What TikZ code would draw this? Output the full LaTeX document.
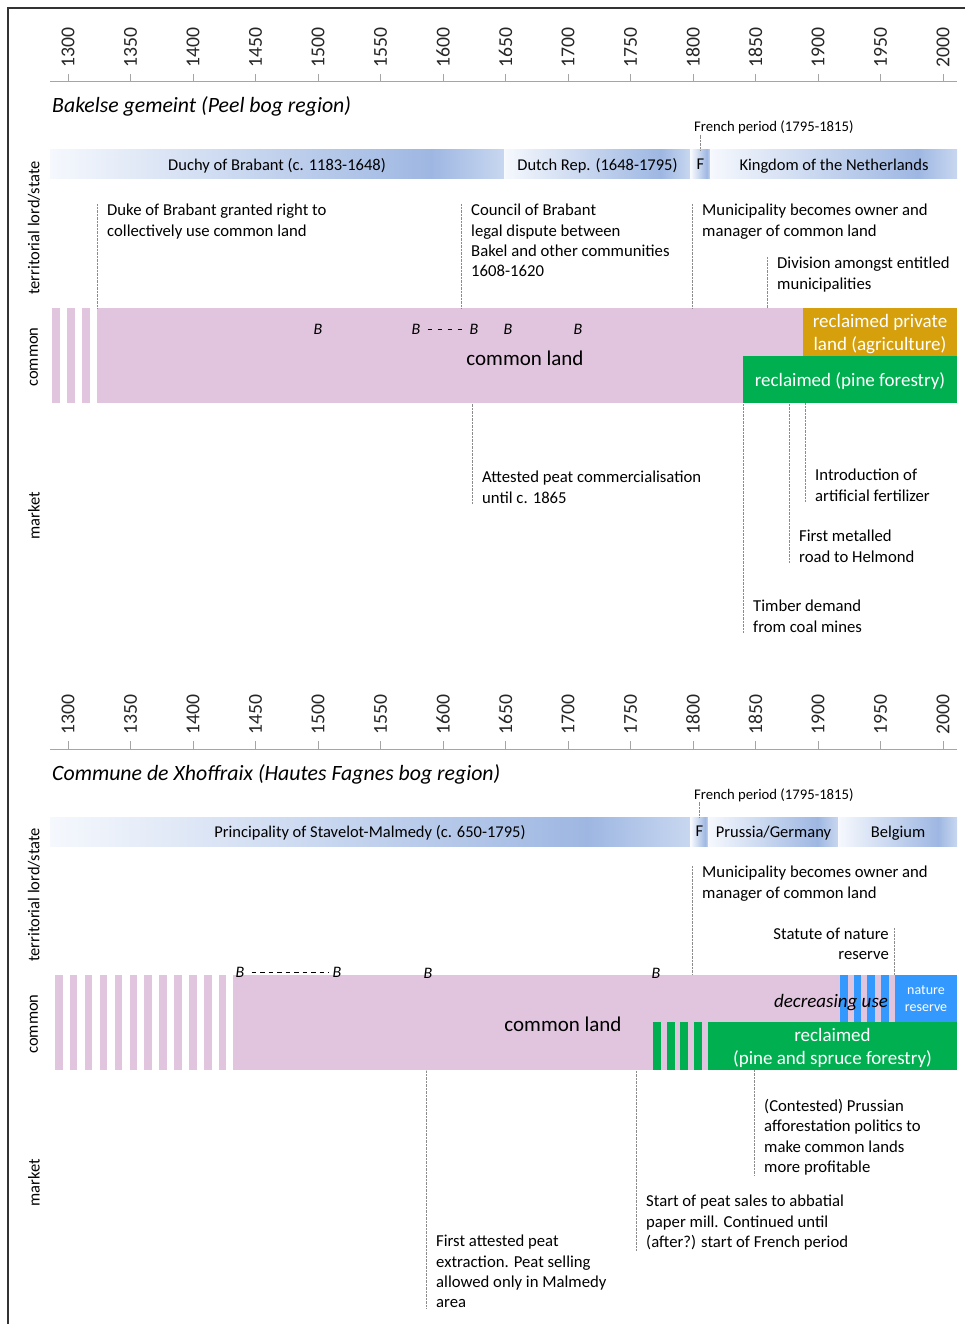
\documentclass[tikz,border=0pt]{standalone}
\usepackage{fontspec}
\setmainfont{Carlito}
\usepackage{tikz}
\usetikzlibrary{arrows}

\definecolor{commonpink}{RGB}{225,196,222}
\definecolor{agriorange}{RGB}{214,160,12}
\definecolor{forestgreen}{RGB}{0,176,80}
\definecolor{reserveblue}{RGB}{51,153,255}
\definecolor{barlight}{RGB}{245,248,253}
\definecolor{bardark}{RGB}{158,183,226}
\definecolor{barmid}{RGB}{200,215,240}
\definecolor{axisgray}{RGB}{165,165,165}
\pgfdeclarehorizontalshading{barshade}{100bp}{color(0bp)=(barlight); color(25bp)=(barlight); color(67bp)=(bardark); color(75bp)=(barmid); color(100bp)=(barmid)}

\begin{document}
\begin{tikzpicture}
  [x=1pt, y=-1pt,
    bar/.style={rectangle, shade, shading=barshade, minimum height=29, inner sep=0, outer sep=0, anchor=north west, text depth=0pt, font=\fontsize{16.5}{20}\selectfont},
    band/.style={rectangle, fill=commonpink, inner sep=0, outer sep=0, anchor=north west},
    fillbox/.style={rectangle, inner sep=0, outer sep=0, anchor=north west, text=white, align=center, text depth=0pt, font=\fontsize{19}{23}\selectfont},
    note/.style={align=left, inner xsep=10, inner ysep=0, anchor=north west, font=\fontsize{16.7}{20.3}\selectfont},
    side/.style={rotate=90, font=\fontsize{16.5}{20}\selectfont},
    year/.style={rotate=90, anchor=west, inner sep=0, text=black!85, font=\fontsize{19.7}{22}\selectfont},
    title/.style={anchor=base west, inner sep=0, font=\fontsize{21.8}{24}\selectfont\itshape},
    bee/.style={inner sep=2, font=\fontsize{16}{18}\selectfont\itshape},
    leader/.style={draw=black!45, densely dotted},
    axis/.style={draw=axisgray, line width=1}
  ]
  \useasboundingbox (0,0) rectangle (965,1324);
  \draw[black!80, line width=1.3] (8,1324) -- (8,8) -- (965,8);

  % time axes
  \foreach \o in {0,667} {
    \draw[axis] (50,82+\o) -- (957,82+\o);
    \foreach \y in {1300,1350,...,2000} {
      \draw[axis] (68+1.25*\y-1625,74+\o) -- (68+1.25*\y-1625,82+\o);
      \node[year] at (68+1.25*\y-1625,68+\o) {\y};
    }
    \node[side] at (34,228+\o) {territorial lord/state};
    \node[side] at (34,357+\o) {common};
    \node[side] at (34,516+\o) {market};
  }

  % Bakel
  \node[title] (t1) at (52,113) {Bakelse gemeint (Peel bog region)};
  \node[anchor=base west, inner sep=0, font=\fontsize{14.7}{17}\selectfont] (fr1) at (694,132) {French period (1795-1815)};

  \path (50,150) node[bar, minimum width=454] (duchy) {Duchy of Brabant (c. 1183-1648)}
     ++(455,0) node[bar, minimum width=185] (dutch) {Dutch Rep. (1648-1795)}
     ++(186,0) node[bar, minimum width=19] (fbar1) {F}
     ++( 20,0) node[bar, minimum width=246] (kingdom) {Kingdom of the Netherlands};
  \draw[leader] (fbar1.north) -- (fbar1.north |- fr1.south);

  \foreach \s in {0,1,2} {
    \fill[commonpink] (52+15*\s,308) rectangle ++(8,95);
  }
  \node[band, minimum width=860, minimum height=95] (band1) at (97,308) {};
  \node[fillbox, fill=agriorange, minimum width=154, minimum height=48] (agri) at (803,308) {reclaimed private\\land (agriculture)};
  \node[fillbox, fill=forestgreen, minimum width=214, minimum height=47] (pine) at (743,356) {reclaimed (pine forestry)};
  \node[font=\fontsize{21}{24}\selectfont] (cl1) at (525,358) {common land};

  \node[bee] (b11) at (318,329) {B};
  \node[bee] (b12) at (416,329) {B};
  \node[bee] (b13) at (474,329) {B};
  \node[bee] (b14) at (508,329) {B};
  \node[bee] (b15) at (578,329) {B};
  \draw[dash pattern=on 4pt off 6pt, shorten <=5pt, shorten >=4pt] (b12.east) -- (b13.west);

  \node[note] (duke) at (97,204) {Duke of Brabant granted right to\\collectively use common land};
  \node[note] (council) at (461,204) {Council of Brabant\\legal dispute between\\Bakel and other communities\\1608-1620};
  \node[note] (muni1) at (692,204) {Municipality becomes owner and\\manager of common land};
  \node[note] (division) at (767,257) {Division amongst entitled\\municipalities};
  \foreach \n in {duke, council, muni1, division} {
    \draw[leader] (\n.north west) -- (\n.north west |- band1.north);
  }

  \node[note] (attest) at (472,471) {Attested peat commercialisation\\until c. 1865};
  \node[note] (fertilizer) at (805,469) {Introduction of\\artificial fertilizer};
  \node[note] (road) at (789,530) {First metalled\\road to Helmond};
  \node[note] (timber) at (743,600) {Timber demand\\from coal mines};
  \foreach \n in {attest, fertilizer, road, timber} {
    \draw[leader] (\n.south west) -- (\n.south west |- band1.south);
  }

  % Xhoffraix
  \node[title] (t2) at (52,780) {Commune de Xhoffraix (Hautes Fagnes bog region)};
  \node[anchor=base west, inner sep=0, font=\fontsize{14.7}{17}\selectfont] (fr2) at (694,799) {French period (1795-1815)};

  \path (50,817) node[bar, minimum width=640] (stavelot) {Principality of Stavelot-Malmedy (c. 650-1795)}
     ++(641,0) node[bar, minimum width=17] (fbar2) {F}
     ++( 18,0) node[bar, minimum width=129] (prussia) {Prussia/Germany}
     ++(130,0) node[bar, minimum width=118] (belgium) {Belgium};
  \draw[leader] (fbar2.north) -- (fbar2.north |- fr2.south);

  \foreach \s in {0,...,11} {
    \fill[commonpink] (55+14.9*\s,975) rectangle ++(7.5,95);
  }
  \node[band, minimum width=724, minimum height=95] (band2) at (233,975) {};
  \foreach \s in {0,...,3} {
    \fill[forestgreen] (653+13.7*\s,1022) rectangle ++(8,48);
    \fill[reserveblue] (840+13.7*\s,975) rectangle ++(7.5,47);
  }
  \node[fillbox, fill=forestgreen, minimum width=249, minimum height=48] (spruce) at (708,1022) {reclaimed\\(pine and spruce forestry)};
  \node[fillbox, fill=reserveblue, minimum width=62, minimum height=47, font=\fontsize{14}{17}\selectfont] (reserve) at (895,975) {nature\\reserve};
  \node[font=\fontsize{19}{22}\selectfont\itshape] (decr) at (831,1003) {decreasing use};
  \node[font=\fontsize{21}{24}\selectfont] (cl2) at (563,1024) {common land};

  \node[bee] (b21) at (240,972) {B};
  \node[bee] (b22) at (337,972) {B};
  \node[bee] (b23) at (428,973) {B};
  \node[bee] (b24) at (656,973) {B};
  \draw[dash pattern=on 4.5pt off 4pt, shorten <=5pt, shorten >=2pt] (b21.east) -- (b22.west);

  \node[note] (muni2) at (692,866) {Municipality becomes owner and\\manager of common land};
  \node[note, align=right, anchor=north east, inner xsep=5] (statute) at (894,928) {Statute of nature\\reserve};
  \draw[leader] (muni2.north west) -- (muni2.north west |- band2.north);
  \draw[leader] (statute.north east) -- (statute.north east |- band2.north);

  \node[note] (extraction) at (426,1235) {First attested peat\\extraction. Peat selling\\allowed only in Malmedy\\area};
  \node[note] (papermill) at (636,1195) {Start of peat sales to abbatial\\paper mill. Continued until\\(after?) start of French period};
  \node[note] (prussian) at (754,1099) {(Contested) Prussian\\afforestation politics to\\make common lands\\more profitable};
  \foreach \n in {extraction, papermill, prussian} {
    \draw[leader] (\n.south west) -- (\n.south west |- band2.south);
  }

\end{tikzpicture}
\end{document}
